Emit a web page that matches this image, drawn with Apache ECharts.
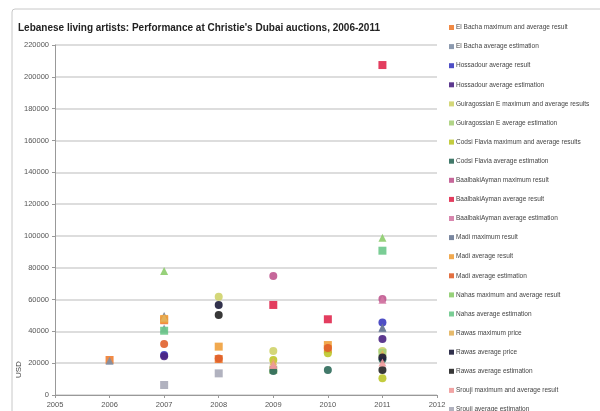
<!DOCTYPE html>
<html>
<head>
<meta charset="utf-8">
<script src="https://cdn.jsdelivr.net/npm/echarts@6/dist/echarts.min.js"></script>
<style>
html, body { margin: 0; padding: 0; background: #fff; }
#chart { width: 600px; height: 411px; }
</style>
</head>
<body>
<div id="chart"></div>
<script>
var years = [2005, 2006, 2007, 2008, 2009, 2010, 2011, 2012];

// [year, USD]
var elBachaResult = [[2006, 22000], [2007, 47000], [2008, 22600], [2010, 28900]];
var elBachaEstim = [[2006, 21500], [2007, 41800], [2011, 42000]];
var hossadourResult = [[2007, 25200], [2011, 45500]];
var hossadourEstim = [[2007, 24300], [2011, 35200]];
var guiragossianResult = [[2008, 61800], [2009, 27700], [2011, 27700]];
var guiragossianEstim = [[2009, 15700], [2011, 26500]];
var codsiResult = [[2009, 22000], [2010, 26200], [2011, 10500]];
var codsiEstim = [[2009, 15100], [2010, 15700], [2011, 22400]];
var baalbakiMax = [[2009, 74800], [2011, 60300]];
var baalbakiResult = [[2009, 56600], [2010, 47600], [2011, 207400]];
var baalbakiEstim = [[2009, 19500], [2011, 59800]];
var madiMax = [[2007, 49700], [2011, 42500]];
var madiResult = [[2007, 47800], [2008, 30400], [2010, 31400]];
var madiEstim = [[2007, 32000], [2008, 23000], [2010, 29500]];
var nahasResult = [[2007, 78000], [2011, 98900]];
var nahasEstim = [[2007, 40400], [2011, 90700]];
var rawasMax = [[2007, 48500], [2009, 21000], [2011, 26000]];
var rawasAvg = [[2008, 56600], [2011, 23500]];
var rawasEstim = [[2008, 50300], [2011, 15700]];
var sroujiResult = [[2009, 18900], [2011, 20500]];
var sroujiEstim = [[2007, 6300], [2008, 13600]];

var seriesList = [
    ['El Bacha maximum and average result', elBachaResult, '#ef7d31', 'rect'],
    ['El Bacha average estimation', elBachaEstim, '#7f8fa6', 'triangle'],
    ['Hossadour average result', hossadourResult, '#3b3bbf', 'circle'],
    ['Hossadour average estimation', hossadourEstim, '#4b2383', 'circle'],
    ['Guiragossian E maximum and average results', guiragossianResult, '#cfd36a', 'circle'],
    ['Guiragossian E average estimation', guiragossianEstim, '#a8cf7a', 'rect'],
    ['Codsi Flavia maximum and average results', codsiResult, '#bcc62a', 'circle'],
    ['Codsi Flavia average estimation', codsiEstim, '#2e6a5a', 'circle'],
    ['BaalbakiAyman maximum result', baalbakiMax, '#c0578f', 'circle'],
    ['BaalbakiAyman average result', baalbakiResult, '#e0284e', 'rect'],
    ['BaalbakiAyman average estimation', baalbakiEstim, '#d47aa5', 'triangle'],
    ['Madi maximum result', madiMax, '#6b7a96', 'triangle'],
    ['Madi average result', madiResult, '#f0a03c', 'rect'],
    ['Madi average estimation', madiEstim, '#e0602c', 'circle'],
    ['Nahas maximum and average result', nahasResult, '#8ccc6c', 'triangle'],
    ['Nahas average estimation', nahasEstim, '#6cc88a', 'rect'],
    ['Rawas maximum price', rawasMax, '#e3b25c', 'triangle'],
    ['Rawas average price', rawasAvg, '#1c1c3a', 'circle'],
    ['Rawas average estimation', rawasEstim, '#222222', 'circle'],
    ['Srouji maximum and average result', sroujiResult, '#f09a9a', 'triangle'],
    ['Srouji average estimation', sroujiEstim, '#a9aab8', 'rect']
];

var chart = echarts.init(document.getElementById('chart'));

var series = [];
for (var i = 0; i < seriesList.length; i++) {
    series.push({
        name: seriesList[i][0],
        type: 'scatter',
        data: seriesList[i][1],
        symbol: seriesList[i][3],
        symbolSize: 8,
        itemStyle: { color: seriesList[i][2], opacity: 0.9 }
    });
}

var option = {
    animation: false,
    textStyle: { fontFamily: 'Liberation Sans, Arial, sans-serif' },
    title: {
        text: "Lebanese living artists: Performance at Christie's Dubai auctions, 2006-2011",
        left: 13,
        top: 18,
        textStyle: { fontSize: 10, fontWeight: 'bold', color: '#222' }
    },
    graphic: [{
        type: 'rect',
        shape: { x: 12, y: 9, width: 600, height: 420, r: 3 },
        style: { fill: 'none', stroke: '#c8c8c8', lineWidth: 1 },
        silent: true
    }, {
        type: 'text',
        x: 19,
        y: 378,
        rotation: Math.PI / 2,
        style: { text: 'USD', fontSize: 8, fill: '#444', fontFamily: 'Liberation Sans, Arial, sans-serif', verticalAlign: 'middle' },
        silent: true
    }],
    legend: {
        orient: 'vertical',
        left: 444,
        top: 19,
        height: 400,
        itemWidth: 5,
        itemHeight: 5,
        itemGap: 12.1,
        textStyle: { fontSize: 6.5, color: '#444', lineHeight: 7, padding: [0, 0, 0, -3] },
        data: seriesList.map(function (s) { return { name: s[0], icon: 'rect' }; })
    },
    grid: { left: 55, right: 163, top: 45, bottom: 16 },
    xAxis: {
        type: 'value',
        min: 2005,
        max: 2012,
        interval: 1,
        axisLine: { show: true, lineStyle: { color: '#999' } },
        axisTick: { show: true, length: 3, lineStyle: { color: '#999' } },
        splitLine: { show: false },
        axisLabel: { fontSize: 7.5, color: '#555', margin: 6, formatter: function (v) { return String(v); } }
    },
    yAxis: {
        type: 'value',
        min: 0,
        max: 220000,
        interval: 20000,
        axisLine: { show: true, lineStyle: { color: '#999' } },
        axisTick: { show: true, length: 3, lineStyle: { color: '#999' } },
        splitLine: { lineStyle: { color: '#d2d2d2', width: 1.5 } },
        axisLabel: { fontSize: 7.5, color: '#555', margin: 6, formatter: function (v) { return String(v); } }
    },
    series: series
};

chart.setOption(option);
</script>
</body>
</html>
